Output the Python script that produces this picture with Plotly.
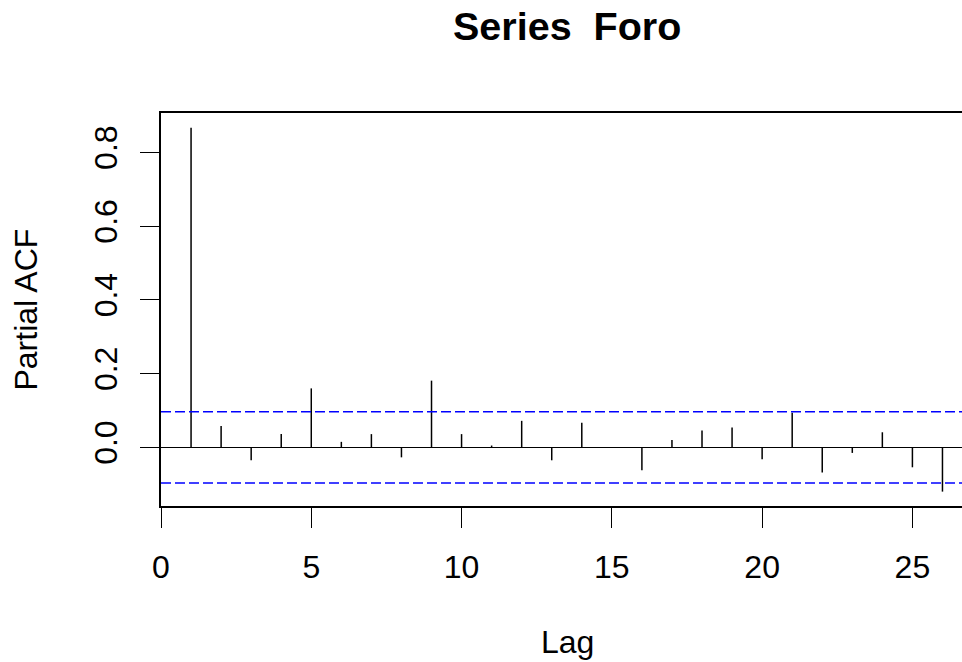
import plotly.graph_objects as go

# ---- data ----
lags = list(range(1, 27))
pacf_values = [0.867, 0.058, -0.035, 0.036, 0.160, 0.015, 0.036, -0.027, 0.181,
               0.036, 0.005, 0.072, -0.035, 0.067, -0.002, -0.062, 0.020, 0.046,
               0.054, -0.032, 0.094, -0.068, -0.015, 0.041, -0.054, -0.120]
conf_limit = 0.0966
x_ticks = [0, 5, 10, 15, 20, 25]
y_ticks = [0.0, 0.2, 0.4, 0.6, 0.8]
title_text = "Series\u00a0 Foro"
x_label = "Lag"
y_label = "Partial ACF"

FONT = "Liberation Sans, Arial, Helvetica, sans-serif"

# spikes built from data
sx, sy = [], []
for lag, v in zip(lags, pacf_values):
    sx += [lag, lag, None]
    sy += [0, v, None]

fig = go.Figure()
fig.add_trace(go.Scatter(x=sx, y=sy, mode="lines",
                         line=dict(color="black", width=1.5),
                         hoverinfo="skip", showlegend=False))

# confidence limits
for c in (conf_limit, -conf_limit):
    fig.add_shape(type="line", xref="paper", yref="y", x0=0, x1=1, y0=c, y1=c,
                  line=dict(color="#0000FF", width=1.5, dash="10px,4px"), layer="above")

fig.update_layout(
    width=962, height=662,
    margin=dict(l=161, r=0, t=113, b=156),
    paper_bgcolor="white", plot_bgcolor="white",
    font=dict(family=FONT, size=32, color="black"),
    showlegend=False,
    xaxis=dict(range=[0, 26.65], tickvals=x_ticks, ticks="outside", ticklen=20,
               tickwidth=1.3, tickcolor="black", showgrid=False, zeroline=False,
               showline=True, linecolor="black", linewidth=1.5, mirror=True,
               ticklabelstandoff=12,
               tickfont=dict(size=32, family=FONT)),
    yaxis=dict(range=[-0.159, 0.907], tickvals=y_ticks, tickformat=".1f",
               ticks="outside", ticklen=19, tickwidth=1.3, tickcolor="black",
               tickangle=-90, showgrid=False, zeroline=True, zerolinecolor="black",
               zerolinewidth=1.2, showline=True, linecolor="black", linewidth=1.5,
               mirror=False, ticklabelstandoff=10,
               tickfont=dict(size=32, family=FONT)),
    annotations=[
        dict(text="<b>" + title_text + "</b>", xref="paper", yref="paper",
             x=0.507, y=1.221, xanchor="center", yanchor="middle", showarrow=False,
             font=dict(size=39.5, family=FONT)),
        dict(text=x_label, xref="paper", yref="paper", x=0.507, y=-0.346,
             xanchor="center", yanchor="middle", showarrow=False,
             font=dict(size=32, family=FONT)),
        dict(text=y_label, xref="paper", yref="paper", x=-0.168, y=0.501,
             xanchor="center", yanchor="middle", showarrow=False, textangle=-90,
             font=dict(size=32, family=FONT)),
    ],
)

fig.write_html("out.html")
